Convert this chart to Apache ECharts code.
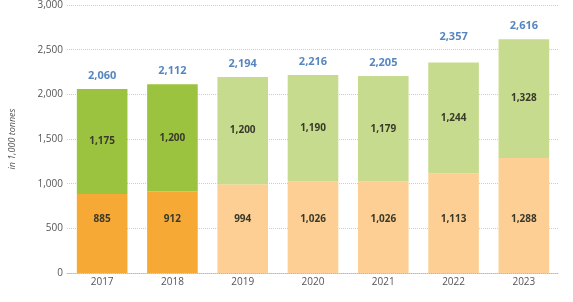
<!DOCTYPE html>
<html><head><meta charset="utf-8">
<script src="https://cdn.jsdelivr.net/npm/echarts@6/dist/echarts.min.js"></script>
<style>html,body{margin:0;padding:0;background:#fff}#c{width:573px;height:302px}</style>
</head><body><div id="c"></div>
<script>
const years = ['2017','2018','2019','2020','2021','2022','2023'];
const lowerValues = [885, 912, 994, 1026, 1026, 1113, 1288];
const upperValues = [1175, 1200, 1200, 1190, 1179, 1244, 1328];
const totals = [2060, 2112, 2194, 2216, 2205, 2357, 2616];
const yTicks = [0, 500, 1000, 1500, 2000, 2500, 3000];

const lowerColors = ['#F6A935','#F6A935','#FDCF94','#FDCF94','#FDCF94','#FDCF94','#FDCF94'];
const upperColors = ['#9CC33F','#9CC33F','#C6DB8D','#C6DB8D','#C6DB8D','#C6DB8D','#C6DB8D'];
const fmt = v => v.toLocaleString('en-US');
const font = "'Open Sans', sans-serif";

const chart = echarts.init(document.getElementById('c'));
chart.setOption({
  animation: false,
  grid: {left: 61, right: 14, top: 1, bottom: 29},
  xAxis: {
    type: 'category', data: years,
    axisLine: {lineStyle: {color: '#bbb', type: 'dotted'}},
    axisTick: {show: false},
    axisLabel: {color: '#555', fontSize: 10, fontFamily: font, margin: 4}
  },
  yAxis: {
    type: 'value', min: yTicks[0], max: yTicks[yTicks.length - 1], interval: 500,
    name: 'in 1,000 tonnes', nameLocation: 'middle', nameGap: 50,
    nameTextStyle: {fontStyle: 'italic', fontSize: 9, color: '#555', fontFamily: font},
    axisLabel: {color: '#555', fontSize: 10, fontFamily: font, margin: 4, formatter: v => fmt(v)},
    splitLine: {lineStyle: {color: '#ccc', type: 'dotted'}},
    axisLine: {show: false}, axisTick: {show: false}
  },
  series: [
    {
      type: 'bar', stack: 't', barWidth: '72%',
      data: lowerValues.map((v, i) => ({value: v, itemStyle: {color: lowerColors[i]}})),
      label: {show: true, position: 'insideBottom', distance: 49, formatter: p => fmt(p.value),
        color: '#3a3a2a', fontWeight: 'bold', fontSize: 10, fontFamily: font}
    },
    {
      type: 'bar', stack: 't', barWidth: '72%',
      data: upperValues.map((v, i) => ({value: v, itemStyle: {color: upperColors[i]}})),
      label: {show: true, position: 'inside', formatter: p => fmt(p.value),
        color: '#3a3a2a', fontWeight: 'bold', fontSize: 10, fontFamily: font}
    },
    {
      type: 'scatter', symbolSize: 0, silent: true,
      data: totals.map((v, i) => ({value: v, label: {distance: i === 5 ? 20 : 8}})),
      label: {show: true, position: 'top', formatter: p => fmt(p.value),
        color: '#2B68B0', fontWeight: 'bold', fontSize: 11, fontFamily: font}
    }
  ]
});
</script></body></html>
